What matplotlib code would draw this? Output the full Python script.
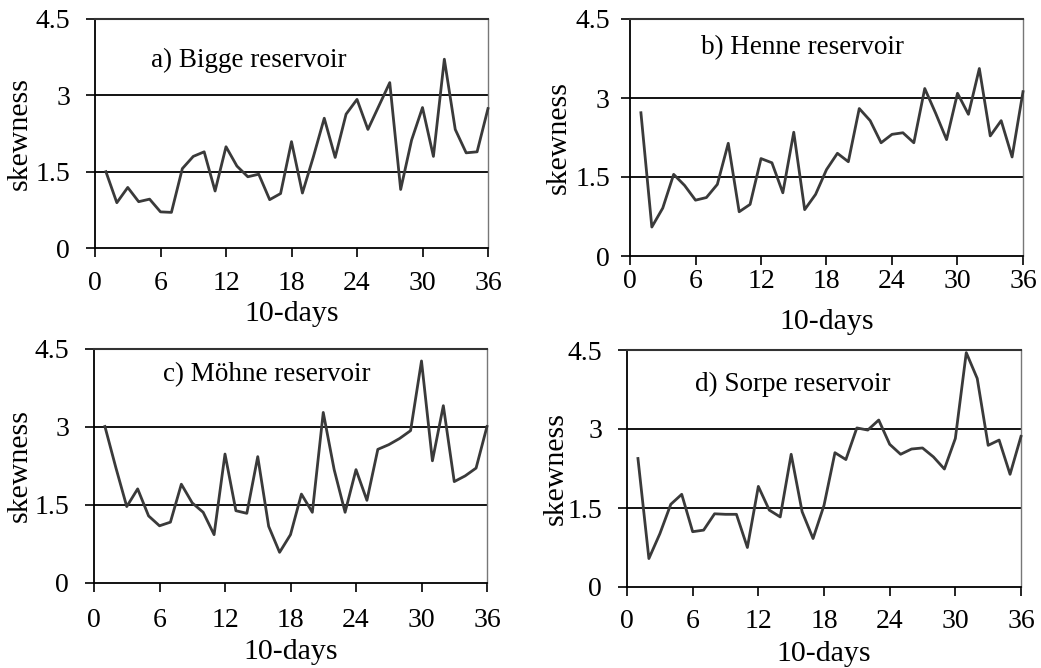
import matplotlib
matplotlib.use("Agg")
import matplotlib.pyplot as plt

x = list(range(1, 37))

bigge = [1.50, 0.89, 1.19, 0.91, 0.96, 0.71, 0.70, 1.56, 1.80, 1.89,
         1.12, 1.99, 1.61, 1.40, 1.45, 0.95, 1.07, 2.09, 1.08, 1.79,
         2.55, 1.78, 2.63, 2.92, 2.33, 2.79, 3.25, 1.15, 2.12, 2.76,
         1.80, 3.71, 2.33, 1.87, 1.89, 2.74]
henne = [2.72, 0.55, 0.91, 1.55, 1.34, 1.06, 1.11, 1.36, 2.14, 0.84,
         0.98, 1.85, 1.77, 1.20, 2.35, 0.88, 1.17, 1.64, 1.95, 1.79,
         2.80, 2.57, 2.15, 2.31, 2.34, 2.15, 3.18, 2.71, 2.21, 3.09,
         2.69, 3.56, 2.28, 2.57, 1.88, 3.12]
moehne = [3.01, 2.22, 1.47, 1.81, 1.29, 1.10, 1.17, 1.90, 1.54, 1.36,
          0.93, 2.48, 1.39, 1.34, 2.43, 1.09, 0.59, 0.93, 1.71, 1.36,
          3.28, 2.18, 1.36, 2.18, 1.59, 2.57, 2.66, 2.78, 2.93, 4.27,
          2.35, 3.41, 1.95, 2.06, 2.21, 3.01]
sorpe = [2.44, 0.54, 1.01, 1.57, 1.76, 1.05, 1.08, 1.39, 1.38, 1.38,
         0.75, 1.91, 1.46, 1.33, 2.52, 1.43, 0.92, 1.55, 2.55, 2.42,
         3.02, 2.98, 3.17, 2.71, 2.52, 2.62, 2.64, 2.47, 2.24, 2.82,
         4.45, 3.96, 2.69, 2.79, 2.14, 2.86]

titles = ["a) Bigge reservoir", "b) Henne reservoir",
          "c) Möhne reservoir", "d) Sorpe reservoir"]
series = [bigge, henne, moehne, sorpe]
xticks = [0, 6, 12, 18, 24, 30, 36]
yticks = [0, 1.5, 3, 4.5]
yticklabels = ["0", "1.5", "3", "4.5"]

W, H = 1041, 668
# axes boxes in pixels: left, top, right, bottom
boxes = [(95, 19, 488, 248), (630, 19, 1023, 256),
         (94, 349, 487, 583), (627, 350, 1021, 587)]
title_pos = [(0.39, 0.82), (0.44, 0.88), (0.44, 0.89), (0.42, 0.855)]
# per-panel paddings (points): xtick pad, xlabel pad, ytick pad, ylabel pad
pads = [(10, 3.5, 11.5, 2.0), (3, 10.5, 8, 2.5),
        (11.5, 4, 11.5, 1.0), (9.5, 5, 11.5, -1)]

plt.rcParams['font.family'] = ['Liberation Serif', 'DejaVu Serif']
fig = plt.figure(figsize=(W / 100, H / 100), dpi=100)

for (l, t, r, b), ys, title, tp, pd in zip(boxes, series, titles,
                                          title_pos, pads):
    ax = fig.add_axes([l / W, (H - b) / H, (r - l) / W, (b - t) / H])
    ax.set_xlim(0, 36)
    ax.set_ylim(0, 4.5)
    for yv in [1.5, 3]:
        ax.axhline(yv, color='black', lw=1.3, zorder=1)
    ax.plot(x, ys, color='#3a3a3a', lw=2.0, zorder=3, clip_on=False)
    ax.set_xticks(xticks)
    ax.set_yticks(yticks)
    ax.set_yticklabels(yticklabels)
    ax.tick_params(axis='both', direction='out', length=6.5, width=1.2,
                   labelsize=20, colors='black')
    ax.tick_params(axis='x', pad=pd[0])
    ax.tick_params(axis='y', pad=pd[2])
    ax.spines['left'].set_linewidth(1.3)
    ax.spines['bottom'].set_linewidth(1.3)
    ax.spines['top'].set_color('#333333')
    ax.spines['top'].set_linewidth(1.5)
    ax.spines['right'].set_color('#777777')
    ax.spines['right'].set_linewidth(1.0)
    ax.set_xlabel("10-days", fontsize=21.5, labelpad=pd[1])
    ax.set_ylabel("skewness", fontsize=21.5, labelpad=pd[3])
    ax.text(tp[0], tp[1], title, transform=ax.transAxes, fontsize=19.5,
            ha='center', va='center')

fig.savefig("out.png", dpi=100)
